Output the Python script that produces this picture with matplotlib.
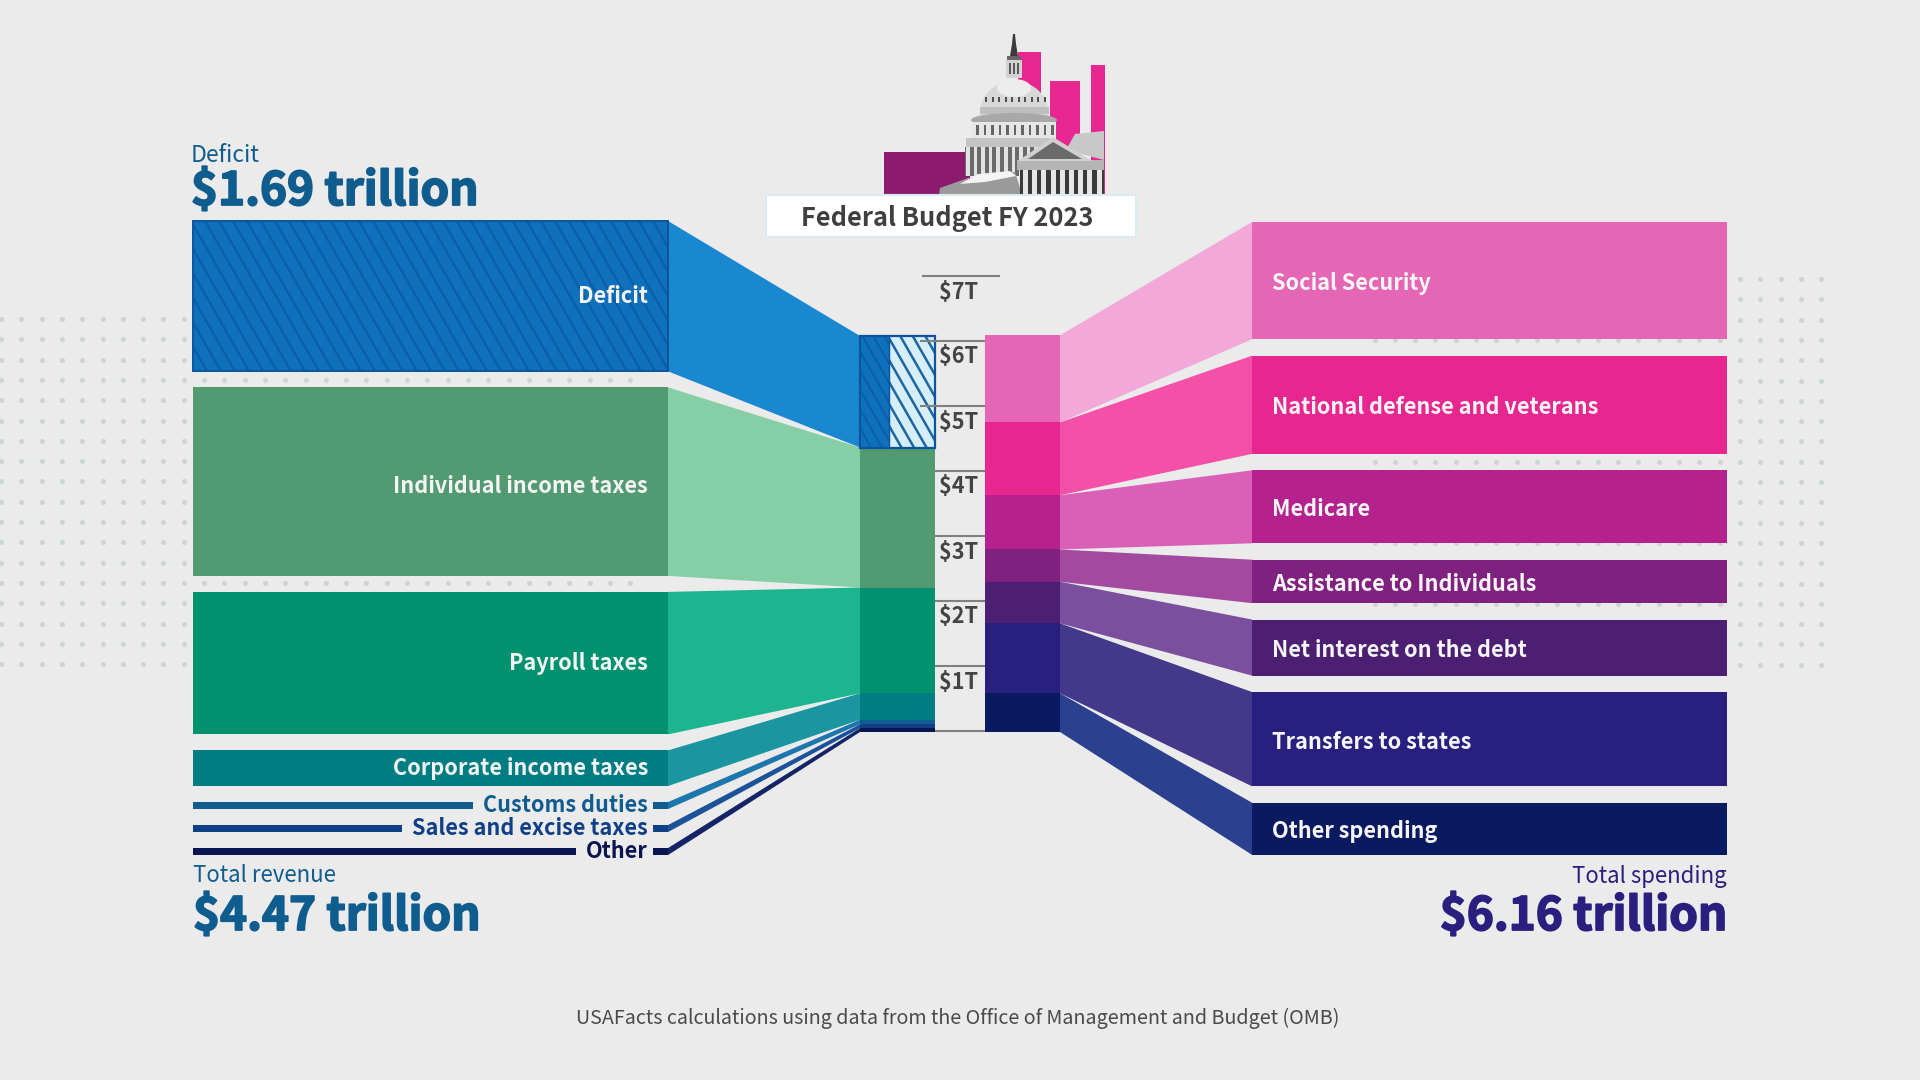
"""
Federal budget FY 2023 flow chart, revenue on the left, spending on the right.
Output: out.png
"""
import matplotlib
matplotlib.use('Agg')
import matplotlib.pyplot as plt
import matplotlib.patheffects as pe
import numpy as np
from matplotlib.collections import LineCollection
from matplotlib.patches import Polygon, Rectangle, Ellipse

plt.rcParams['font.family'] = ['Noto Sans CJK SC', 'DejaVu Sans']

# data, $ trillions
rev_names = ['Deficit', 'Individual income taxes', 'Payroll taxes', 'Corporate income taxes',
             'Customs duties', 'Sales and excise taxes', 'Other']
rev_vals = [1.73, 2.17, 1.64, 0.41, 0.07, 0.06, 0.06]
rev_bar_cols = ['#0F70BC', '#529B72', '#00926E', '#007C83', '#0F5C8E', '#0F3F85', '#0A1450']
rev_flow_cols = ['#1A87D1', '#86CFA6', '#1DB58F', '#1B96A0', '#1E77AC', '#1B5299', '#142466']

spend_names = ['Social Security', 'National defense and veterans', 'Medicare', 'Assistance to Individuals',
               'Net interest on the debt', 'Transfers to states', 'Other spending']
spend_vals = [1.35, 1.13, 0.84, 0.50, 0.645, 1.085, 0.60]
spend_bar_cols = ['#E566B4', '#E7278F', '#B5218D', '#80217F', '#4C1F73', '#291F7F', '#0A1A60']
spend_flow_cols = ['#F2A8D8', '#F450A8', '#D95FB7', '#A24AA0', '#794F9E', '#433889', '#2B408F']

axis_ticks = [1, 2, 3, 4, 5, 6, 7]

# scales, px per $T
COL_K = 64.5
TICK_K = 65.0
BAR_K = 86.9
BASE = 732
BG = '#EBEBEB'
GREY = '#444444'

fig = plt.figure(figsize=(19.2, 10.8), dpi=100, facecolor=BG)
ax = fig.add_axes([0, 0, 1, 1])
ax.set_xlim(0, 1920)
ax.set_ylim(1080, 0)
ax.axis('off')
rend = fig.canvas.get_renderer()


def rect(x0, x1, y0, y1, color, z=2, **kw):
    p = Rectangle((x0, y0), x1 - x0, y1 - y0, facecolor=color, edgecolor='none', zorder=z, **kw)
    ax.add_patch(p)
    return p


def poly(pts, color, z=3):
    ax.add_patch(Polygon(pts, facecolor=color, edgecolor='none', zorder=z))


def stripes(x0, x1, y0, y1, step, color, lw, z=3):
    """diagonal hatch clipped to a box, going down to the right"""
    slope = 1.75
    h = y1 - y0
    segs = [[(x, y0), (x + h / slope, y1)] for x in np.arange(x0 - h / slope, x1 + step, step)]
    lc = LineCollection(segs, colors=color, linewidths=lw, zorder=z)
    ax.add_collection(lc)
    lc.set_clip_path(Rectangle((x0, y0), x1 - x0, h, transform=ax.transData))


def stack(vals, k, top, gap):
    ys = []
    y = top
    for v in vals:
        h = max(v * k, 7)
        ys.append((y, y + h))
        y += h + gap
    return ys


def column(vals, k, bottom):
    ys = []
    y = bottom - sum(vals) * k
    for v in vals:
        ys.append((y, y + v * k))
        y += v * k
    return ys


def big(x, y, s, color, ha):
    ax.text(x, y, s, color=color, fontsize=33, fontweight='bold', ha=ha, va='center',
            path_effects=[pe.withStroke(linewidth=1.3, foreground=color)])


# background dots
dot_x = np.arange(1, 640, 20.3)
dot_y = np.arange(319, 670, 20.3)
xx, yy = np.meshgrid(dot_x, dot_y)
ax.scatter(xx.ravel(), yy.ravel(), s=13, color='#CBD6D2', linewidths=0, zorder=1)
dot_x = np.arange(1374.6, 1825, 20.3)
dot_y = np.arange(279, 670, 20.3)
xx, yy = np.meshgrid(dot_x, dot_y)
ax.scatter(xx.ravel(), yy.ravel(), s=13, color='#CBD6D2', linewidths=0, zorder=1)

# revenue side
L0, L1, LC0, LC1 = 193, 668, 860, 935
rev_bars = stack(rev_vals, BAR_K, 221, 16)
rev_col = column(rev_vals, COL_K, BASE)
label_nudge = [0, 5, 0, 0]
for i, name in enumerate(rev_names):
    y0, y1 = rev_bars[i]
    c0, c1 = rev_col[i]
    poly([(L1, y0), (LC0, c0), (LC0, c1), (L1, y1)], rev_flow_cols[i], z=2)
    rect(LC0, LC1, c0, c1, rev_bar_cols[i], z=3)
    mid = (y0 + y1) / 2
    if i < 4:
        rect(L0, L1, y0, y1, rev_bar_cols[i])
        ax.text(648, mid + label_nudge[i], name, color='#F4F4F4', fontsize=15.6, fontweight='bold',
                ha='right', va='center', zorder=5)
    else:
        t = ax.text(648, mid, name, color=rev_bar_cols[i], fontsize=15.6, fontweight='bold',
                    ha='right', va='center', zorder=5)
        bb = t.get_window_extent(rend)
        rect(L0, bb.x0 - 10, y0, y1, rev_bar_cols[i])
        rect(653, L1, y0, y1, rev_bar_cols[i])

# deficit hatching, bar and the two parts of the column
y0, y1 = rev_bars[0]
stripes(L0, L1, y0, y1, 14, '#0A5EA8', 1.6)
ax.add_patch(Rectangle((L0, y0), L1 - L0, y1 - y0, fill=False, edgecolor='#0A55A0', lw=1.4, zorder=4))
c0, c1 = rev_col[0]
LCM = 889
stripes(LC0, LCM, c0, c1, 11, '#0A5EA8', 1.4, z=4)
rect(LCM, LC1, c0, c1, '#D6EEF8', z=3)
stripes(LCM, LC1, c0, c1, 12.5, '#1F659E', 1.8, z=4)
ax.add_patch(Rectangle((LC0, c0), LC1 - LC0, c1 - c0, fill=False, edgecolor='#0A55A0', lw=1.6, zorder=5))
ax.plot([LCM, LCM], [c0, c1], color='#0A55A0', lw=1.0, zorder=5)

# spending side
R0, R1, RC0, RC1 = 1252, 1727, 985, 1060
spend_bars = stack(spend_vals, BAR_K, 222, 16.4)
spend_col = column(spend_vals, COL_K, BASE)
for i, name in enumerate(spend_names):
    y0, y1 = spend_bars[i]
    c0, c1 = spend_col[i]
    poly([(RC1, c0), (R0, y0), (R0, y1), (RC1, c1)], spend_flow_cols[i], z=2)
    rect(RC0, RC1, c0, c1, spend_bar_cols[i], z=3)
    rect(R0, R1, y0, y1, spend_bar_cols[i])
    ax.text(1272, (y0 + y1) / 2 + 3, name, color='#F6F6F6', fontsize=15.6, fontweight='bold',
            ha='left', va='center', zorder=5)

# axis between the columns
for v in axis_ticks:
    y = BASE - 1 - v * TICK_K
    if v == 7:
        xa, xb = 922, 1000
    elif v >= 5:
        xa, xb = 920, RC0
    else:
        xa, xb = LC1, RC0
    ax.plot([xa, xb], [y, y], color='#808080', lw=1.5, zorder=6, solid_capstyle='butt')
    ax.text(959, y + 16, f'${v}T', color=GREY, fontsize=15.6, fontweight='bold', ha='center', va='center', zorder=6)
ax.plot([LC1, RC0], [BASE - 1, BASE - 1], color='#808080', lw=1.5, zorder=6, solid_capstyle='butt')

# big totals
BLUE = '#0F5C8E'
NAVY = '#2A1F7E'
ax.text(191, 155, 'Deficit', color=BLUE, fontsize=16.5, ha='left', va='center')
big(191, 192, '$1.69 trillion', BLUE, 'left')
ax.text(193, 876, 'Total revenue', color=BLUE, fontsize=16, ha='left', va='center')
big(193, 917, '$4.47 trillion', BLUE, 'left')
ax.text(1727, 876, 'Total spending', color=NAVY, fontsize=16, ha='right', va='center')
big(1727, 917, '$6.16 trillion', NAVY, 'right')
ax.text(958, 1018, 'USAFacts calculations using data from the Office of Management and Budget (OMB)',
        color='#4A4A4A', fontsize=14.2, ha='center', va='center')

# capitol illustration
rect(884, 970, 152, 194, '#8C1B70', z=2)
rect(1018, 1041, 52, 120, '#E7278F', z=2)
rect(1050, 1080, 81, 150, '#E7278F', z=2)
rect(1091, 1105, 65, 194, '#E7278F', z=2)

poly([(1010, 56), (1012, 44), (1013, 34), (1015, 34), (1016, 44), (1018, 56)], '#3C3C3C')
rect(1007, 1021, 56, 60, '#666666', z=3)
rect(1006, 1022, 60, 78, '#D2D2D2', z=3)
for x in np.arange(1009, 1021, 4):
    rect(x, x + 1.8, 63, 74, '#5A5A5A', z=4)
ax.add_patch(Ellipse((1014, 112), 68, 62, facecolor='#D8D8D8', edgecolor='none', zorder=3))
ax.add_patch(Ellipse((1014, 88), 34, 18, facecolor='#EDEDED', edgecolor='none', zorder=3))
for x in np.arange(985, 1045, 6.5):
    rect(x, x + 2.2, 97, 102, '#4F4F4F', z=4)
rect(980, 1049, 107, 114, '#BEBEBE', z=4)
ax.add_patch(Ellipse((1014, 120), 86, 14, facecolor='#A8A8A8', edgecolor='none', zorder=4))
rect(972, 1056, 122, 139, '#E6E6E6', z=4)
for x in np.arange(976, 1054, 7.5):
    rect(x, x + 2.6, 125, 135, '#666666', z=5)
rect(966, 1050, 138, 147, '#C4C4C4', z=4)
rect(965, 1050, 147, 176, '#6A6A6A', z=4)
for x in np.arange(966, 1050, 7.6):
    rect(x, x + 3.6, 147, 176, '#E2E2E2', z=5)
poly([(939, 194), (940, 188), (968, 178), (1015, 172), (1022, 194)], '#9A9A9A', z=6)
poly([(960, 184), (978, 174), (1010, 171), (1016, 176), (985, 182)], '#F4F4F4', z=7)
rect(1020, 1104, 164, 194, '#3A3A3A', z=6)
for x in np.arange(1023, 1102, 9.2):
    rect(x, x + 5, 170, 194, '#E6E6E6', z=7)
poly([(1066, 150), (1075, 134), (1104, 131), (1104, 160)], '#C8C8C8', z=7)
rect(1017, 1104, 160, 170, '#B4B4B4', z=8)
poly([(1018, 161), (1053, 137), (1092, 161)], '#D0D0D0', z=8)
poly([(1028, 159), (1053, 142), (1082, 159)], '#6A6A6A', z=9)

# title box
ax.add_patch(Rectangle((766, 195), 370, 42, facecolor='white', edgecolor='#DCEBF3', lw=1.5, zorder=9))
ax.text(947, 218, 'Federal Budget FY 2023', color='#3F3F3F', fontsize=18.3, fontweight='bold',
        ha='center', va='center', zorder=10)

fig.savefig('out.png', dpi=100, facecolor=BG)
